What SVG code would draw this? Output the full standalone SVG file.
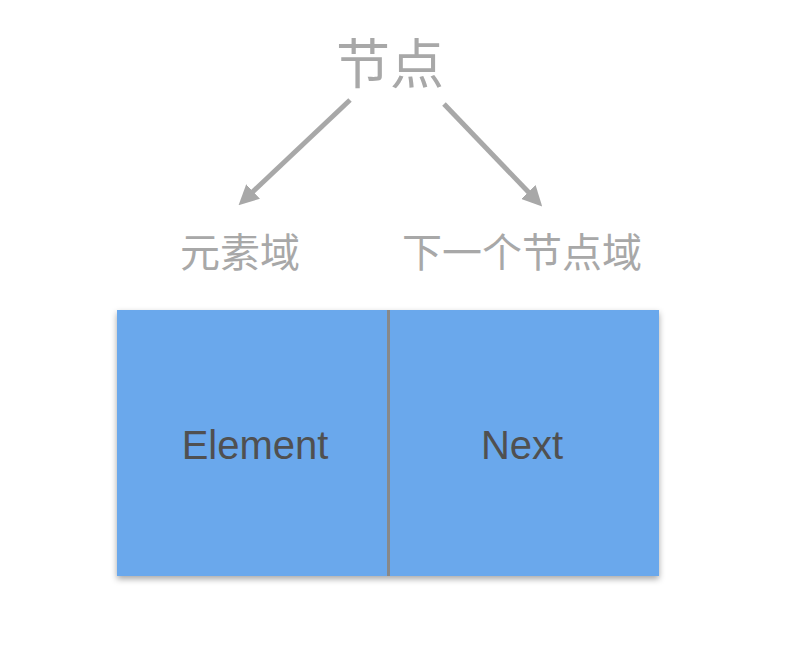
<svg xmlns="http://www.w3.org/2000/svg" width="798" height="650" viewBox="0 0 798 650">
<style>
.cjk{font-family:"Liberation Sans","Noto Sans CJK SC",sans-serif;fill:#a8a8a8}
.lbl{font-family:"Liberation Sans",sans-serif;font-size:40px;fill:#505050;text-anchor:middle}
</style>
<defs>
<marker id="ah" markerWidth="4" markerHeight="4" refX="2.5" refY="2" orient="auto" markerUnits="strokeWidth"><path d="M0,0 L4,2 L0,4 Z" fill="#a8a8a8"/></marker>
<filter id="sh" x="-5%" y="-5%" width="110%" height="115%"><feDropShadow dx="0" dy="3" stdDeviation="3" flood-color="#000" flood-opacity="0.35"/></filter>
</defs>
<rect width="798" height="650" fill="#fff"/>
<g id="title"><text class="cjk" x="390" y="84" font-size="54" text-anchor="middle">节点</text></g>
<g id="elemLabel"><text class="cjk" x="240" y="267" font-size="40" text-anchor="middle">元素域</text></g>
<g id="nextLabel"><text class="cjk" x="522" y="267" font-size="40" text-anchor="middle">下一个节点域</text></g>
<g id="connectors" stroke="#a8a8a8" stroke-width="5" fill="none">
<line x1="350" y1="100" x2="244" y2="200" marker-end="url(#ah)"/>
<line x1="444" y1="104" x2="537" y2="201" marker-end="url(#ah)"/>
</g>
<g id="node">
<rect x="117" y="310" width="542" height="266" fill="#6aa8ec" filter="url(#sh)"/>
<line x1="388.5" y1="310" x2="388.5" y2="576" stroke="#888" stroke-width="3"/>
<text class="lbl" x="255" y="459">Element</text>
<text class="lbl" x="522" y="459">Next</text>
</g>
</svg>
